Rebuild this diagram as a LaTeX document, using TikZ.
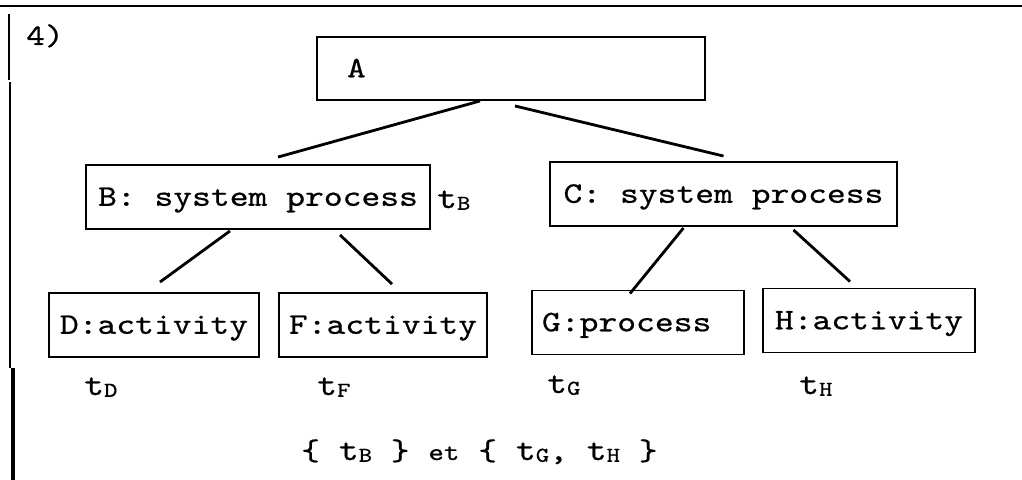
\documentclass[tikz,border=0pt]{standalone}
\usepackage{fontspec}
\usepackage{tikz}
\usetikzlibrary{calc}

\newfontfamily\printfont{lmmono10-regular.otf}[FakeStretch=1.2, FakeBold=0.6]
% time label: t with a small capital index on the baseline
\newcommand{\tsub}[1]{{\fontsize{18}{18}\selectfont t}{\fontsize{12}{12}\selectfont\raisebox{-1pt}{#1}}}

\begin{document}
\begin{tikzpicture}[x=0.02cm, y=-0.02cm,
    every node/.style={font=\printfont\fontsize{17}{20}\selectfont},
    procbox/.style={draw, line width=1.1pt, minimum height=1.28cm, inner sep=0pt,
        text height=10pt, text depth=0pt},
    edge/.style={line width=1.6pt}]
        \useasboundingbox (0,0) rectangle (1022,480);
        % --- Page rules ---
        \draw[line width=1.7pt] (0,6) -- (1022,6);
        \draw[line width=0.6pt] (9,14) -- (9,80);
        \draw[line width=1.5pt] (10,82) -- (10,368);
        \draw[line width=1.8pt] (13,368) -- (13,480);
        \node[anchor=base west] (num) at (20,45) {4)};
        % --- Tree of processes ---
        \node[procbox, minimum height=1.26cm, text width=6.56cm, inner xsep=0.6cm, align=left] (A) at (511,68.5) {A};
        \node[procbox, minimum width=6.88cm] (B) at (258,197) {B: system process};
        \node[procbox, minimum width=6.94cm] (C) at (723.5,194) {C: system process};
        \node[procbox, minimum width=4.2cm] (D) at (154,325) {D:activity};
        \node[procbox, minimum width=4.16cm] (F) at (383,325) {F:activity};
        \node[procbox, text width=3.84cm, inner xsep=0.2cm, align=left] (G) at (638,322.5) {G:process};
        \node[procbox, minimum width=4.24cm] (H) at (869,320.5) {H:activity};
        \draw[edge] ($(A.south)+(-31,0)$) -- ($(B.north)+(20,-7)$);
        \draw[edge] ($(A.south)+(4,5)$) -- ($(C.north)+(0,-5)$);
        \draw[edge] ($(B.south)+(-28,1)$) -- ($(D.north)+(6,-10)$);
        \draw[edge] ($(B.south)+(82,5)$) -- ($(F.north)+(9,-8)$);
        \draw[edge] ($(C.south)+(-40,1)$) -- ($(G.north)+(-8,4)$);
        \draw[edge] ($(C.south)+(70,3)$) -- ($(H.north)+(-19,-6)$);
        % --- Times ---
        \node[anchor=base west] (tB) at ($(B.east)+(0,11)$) {\tsub{B}};
        \node[anchor=base west] (tD) at (78,395) {\tsub{D}};
        \node[anchor=base west] (tF) at (311,395) {\tsub{F}};
        \node[anchor=base west] (tG) at (541,393) {\tsub{G}};
        \node[anchor=base west] (tH) at (793,394) {\tsub{H}};
        \node[anchor=base west] (sets) at (295,460) {\{ \tsub{B} \} {\fontsize{14}{14}\selectfont et} \{ \tsub{G}, \tsub{H} \}};
        % ---
    \end{tikzpicture}
\end{document}
